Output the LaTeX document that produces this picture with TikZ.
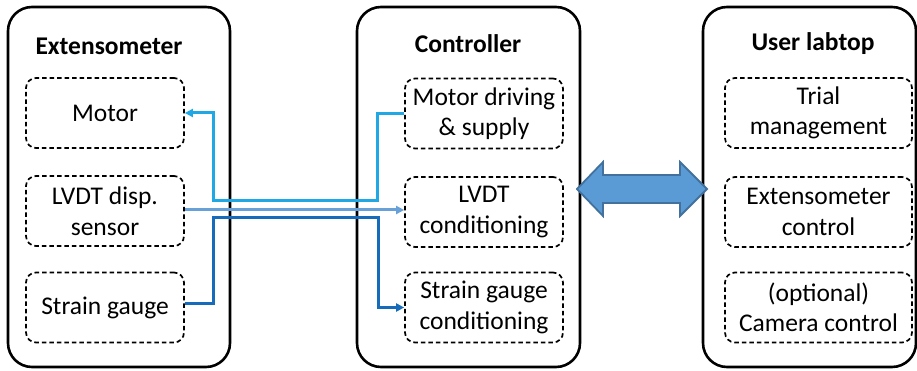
\documentclass[tikz,border=0pt]{standalone}
\usepackage{fontspec}
\setmainfont{Carlito}
\usetikzlibrary{arrows.meta}
\definecolor{cmotor}{RGB}{32,168,228}
\definecolor{clvdt}{RGB}{104,160,216}
\definecolor{cstrain}{RGB}{22,108,186}
\definecolor{afill}{RGB}{91,155,213}
\definecolor{aline}{RGB}{65,113,156}
\begin{document}
\begin{tikzpicture}[x=1pt,y=-1pt,
  outerbox/.style={draw=black, line width=2.6pt, rounded corners=24pt},
  innerbox/.style={draw=black, line width=1.7pt, dash pattern=on 4.5pt off 3pt, rounded corners=10pt,
    minimum width=158pt, minimum height=70pt, inner sep=0pt, align=center,
    font=\fontsize{25.5}{30.5}\selectfont},
  titlelbl/.style={font=\fontsize{25.5}{30}\selectfont\bfseries, inner sep=0pt},
  conn/.style={line width=3pt, -{Triangle[length=8pt,width=8pt]}}]
\useasboundingbox (0,0) rectangle (917,371);
\begin{scope}
\clip (0,0) rectangle (917,371);
% outer boxes
\draw[outerbox] (8,7) rectangle (230,367);
\draw[outerbox] (357,7) rectangle (580,367);
\draw[outerbox] (703,7) rectangle (916,367);
\end{scope}
% titles
\node[titlelbl] (tex) at (109,46) {Extensometer};
\node[titlelbl] (tct) at (468,44) {Controller};
\node[titlelbl] (tla) at (813,44) {User labtop};
% inner boxes
\node[innerbox] (emotor) at (105,113) {Motor};
\node[innerbox] (elvdt) at (105,211) {LVDT disp.\\sensor};
\node[innerbox] (estrain) at (105,307.5) {Strain gauge};
\node[innerbox] (cmotor) at (484,113.5) {Motor driving\\\& supply};
\node[innerbox] (clvdt) at (484,212) {LVDT\\conditioning};
\node[innerbox] (cstrain) at (484,307.5) {Strain gauge\\conditioning};
\node[innerbox, minimum width=187pt] (lt) at (818.5,113) {Trial\\management};
\node[innerbox, minimum width=187pt] (le) at (818.5,212) {Extensometer\\control};
\node[innerbox, minimum width=187pt] (lc) at (818.5,307.5) {(optional)\\Camera control};
% connectors
\draw[conn, cmotor] (cmotor.west) -- ++(-27,0) |- (213,201) |- (emotor.east);
\draw[conn, clvdt] (elvdt.east |- 0,210) -- (clvdt.west |- 0,210);
\draw[conn, cstrain] (estrain.east |- 0,303) -- (213,303) |- (378,218) |- (cstrain.west);
% double arrow
\draw[fill=afill, draw=aline, line width=1.8pt, line join=miter]
  (577,189) -- (603,162) -- (603,175) -- (680,175) -- (680,162) -- (707,189)
  -- (680,216) -- (680,203) -- (603,203) -- (603,216) -- cycle;
\end{tikzpicture}
\end{document}
